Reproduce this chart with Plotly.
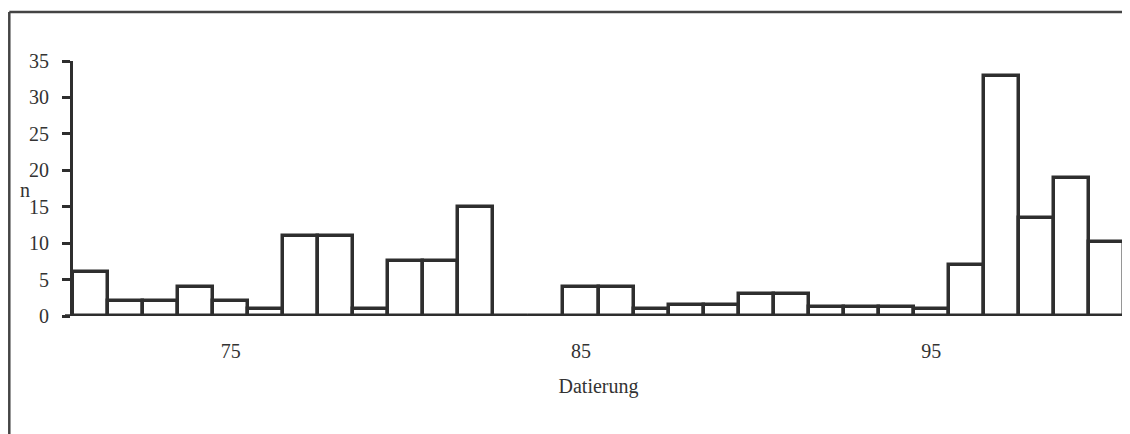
import plotly.graph_objects as go

years = list(range(71, 101))
counts = [6, 2, 2, 4, 2, 1, 11, 11, 1, 7.5, 7.5, 15, 0, 0, 4, 4, 1, 1.5, 1.5, 3, 3,
          1.3, 1.3, 1.3, 1, 7, 33, 13.5, 19, 10.2]
x_tickvals = [75, 85, 95]
y_tickvals = [0, 5, 10, 15, 20, 25, 30, 35]
x_title = "Datierung"
y_title = "n"

INK = "#2e2e2e"
FONT = "Liberation Serif, Times New Roman, serif"

fig = go.Figure()
fig.add_trace(go.Bar(
    x=years, y=counts, width=1,
    marker=dict(color="white", line=dict(color=INK, width=3.5)),
    showlegend=False, hoverinfo="skip",
))

# page body has an 8px margin, so figure coords = reference coords - 8
W, H = 1122, 426
L, R, T, B = 65, 6, 53, 118
pw, ph = W - L - R, H - T - B
axis_y = H - B  # pixel row of y=0 in figure coords

fig.update_layout(
    width=W, height=H,
    margin=dict(l=L, r=R, t=T, b=B, pad=0),
    paper_bgcolor="white", plot_bgcolor="white",
    font=dict(family=FONT, size=20, color="#333333"),
    bargap=0,
    xaxis=dict(
        range=[70.5, 100.5], tickvals=x_tickvals, ticks="",
        showgrid=False, zeroline=False, showline=False,
        ticklabelstandoff=21,
        title=dict(text=x_title, standoff=17, font=dict(size=20)),
    ),
    yaxis=dict(
        range=[0, 35], tickvals=y_tickvals, ticks="outside", ticklen=8,
        tickwidth=3, tickcolor=INK, showgrid=False, zeroline=False,
        showline=True, linecolor=INK, linewidth=3, ticklabelstandoff=9,
    ),
    annotations=[dict(
        text=y_title, xref="paper", yref="paper",
        x=(17 - L) / pw, y=(axis_y - 182) / ph, showarrow=False,
        xanchor="center", yanchor="middle", font=dict(size=20),
    )],
    shapes=[
        # x axis baseline
        dict(type="line", xref="paper", yref="y", x0=-8 / pw, x1=1.0,
             y0=0, y1=0, line=dict(color=INK, width=3.5), layer="above"),
        # outer frame
        dict(type="line", xref="paper", yref="paper", x0=(1.3 - L) / pw, x1=(1.3 - L) / pw,
             y0=-0.7, y1=(axis_y - 4) / ph, line=dict(color="#444444", width=2.5)),
        dict(type="line", xref="paper", yref="paper", x0=(1.3 - L) / pw, x1=1.1,
             y0=(axis_y - 4) / ph, y1=(axis_y - 4) / ph, line=dict(color="#444444", width=2.5)),
    ],
)

fig.write_html("out.html")
